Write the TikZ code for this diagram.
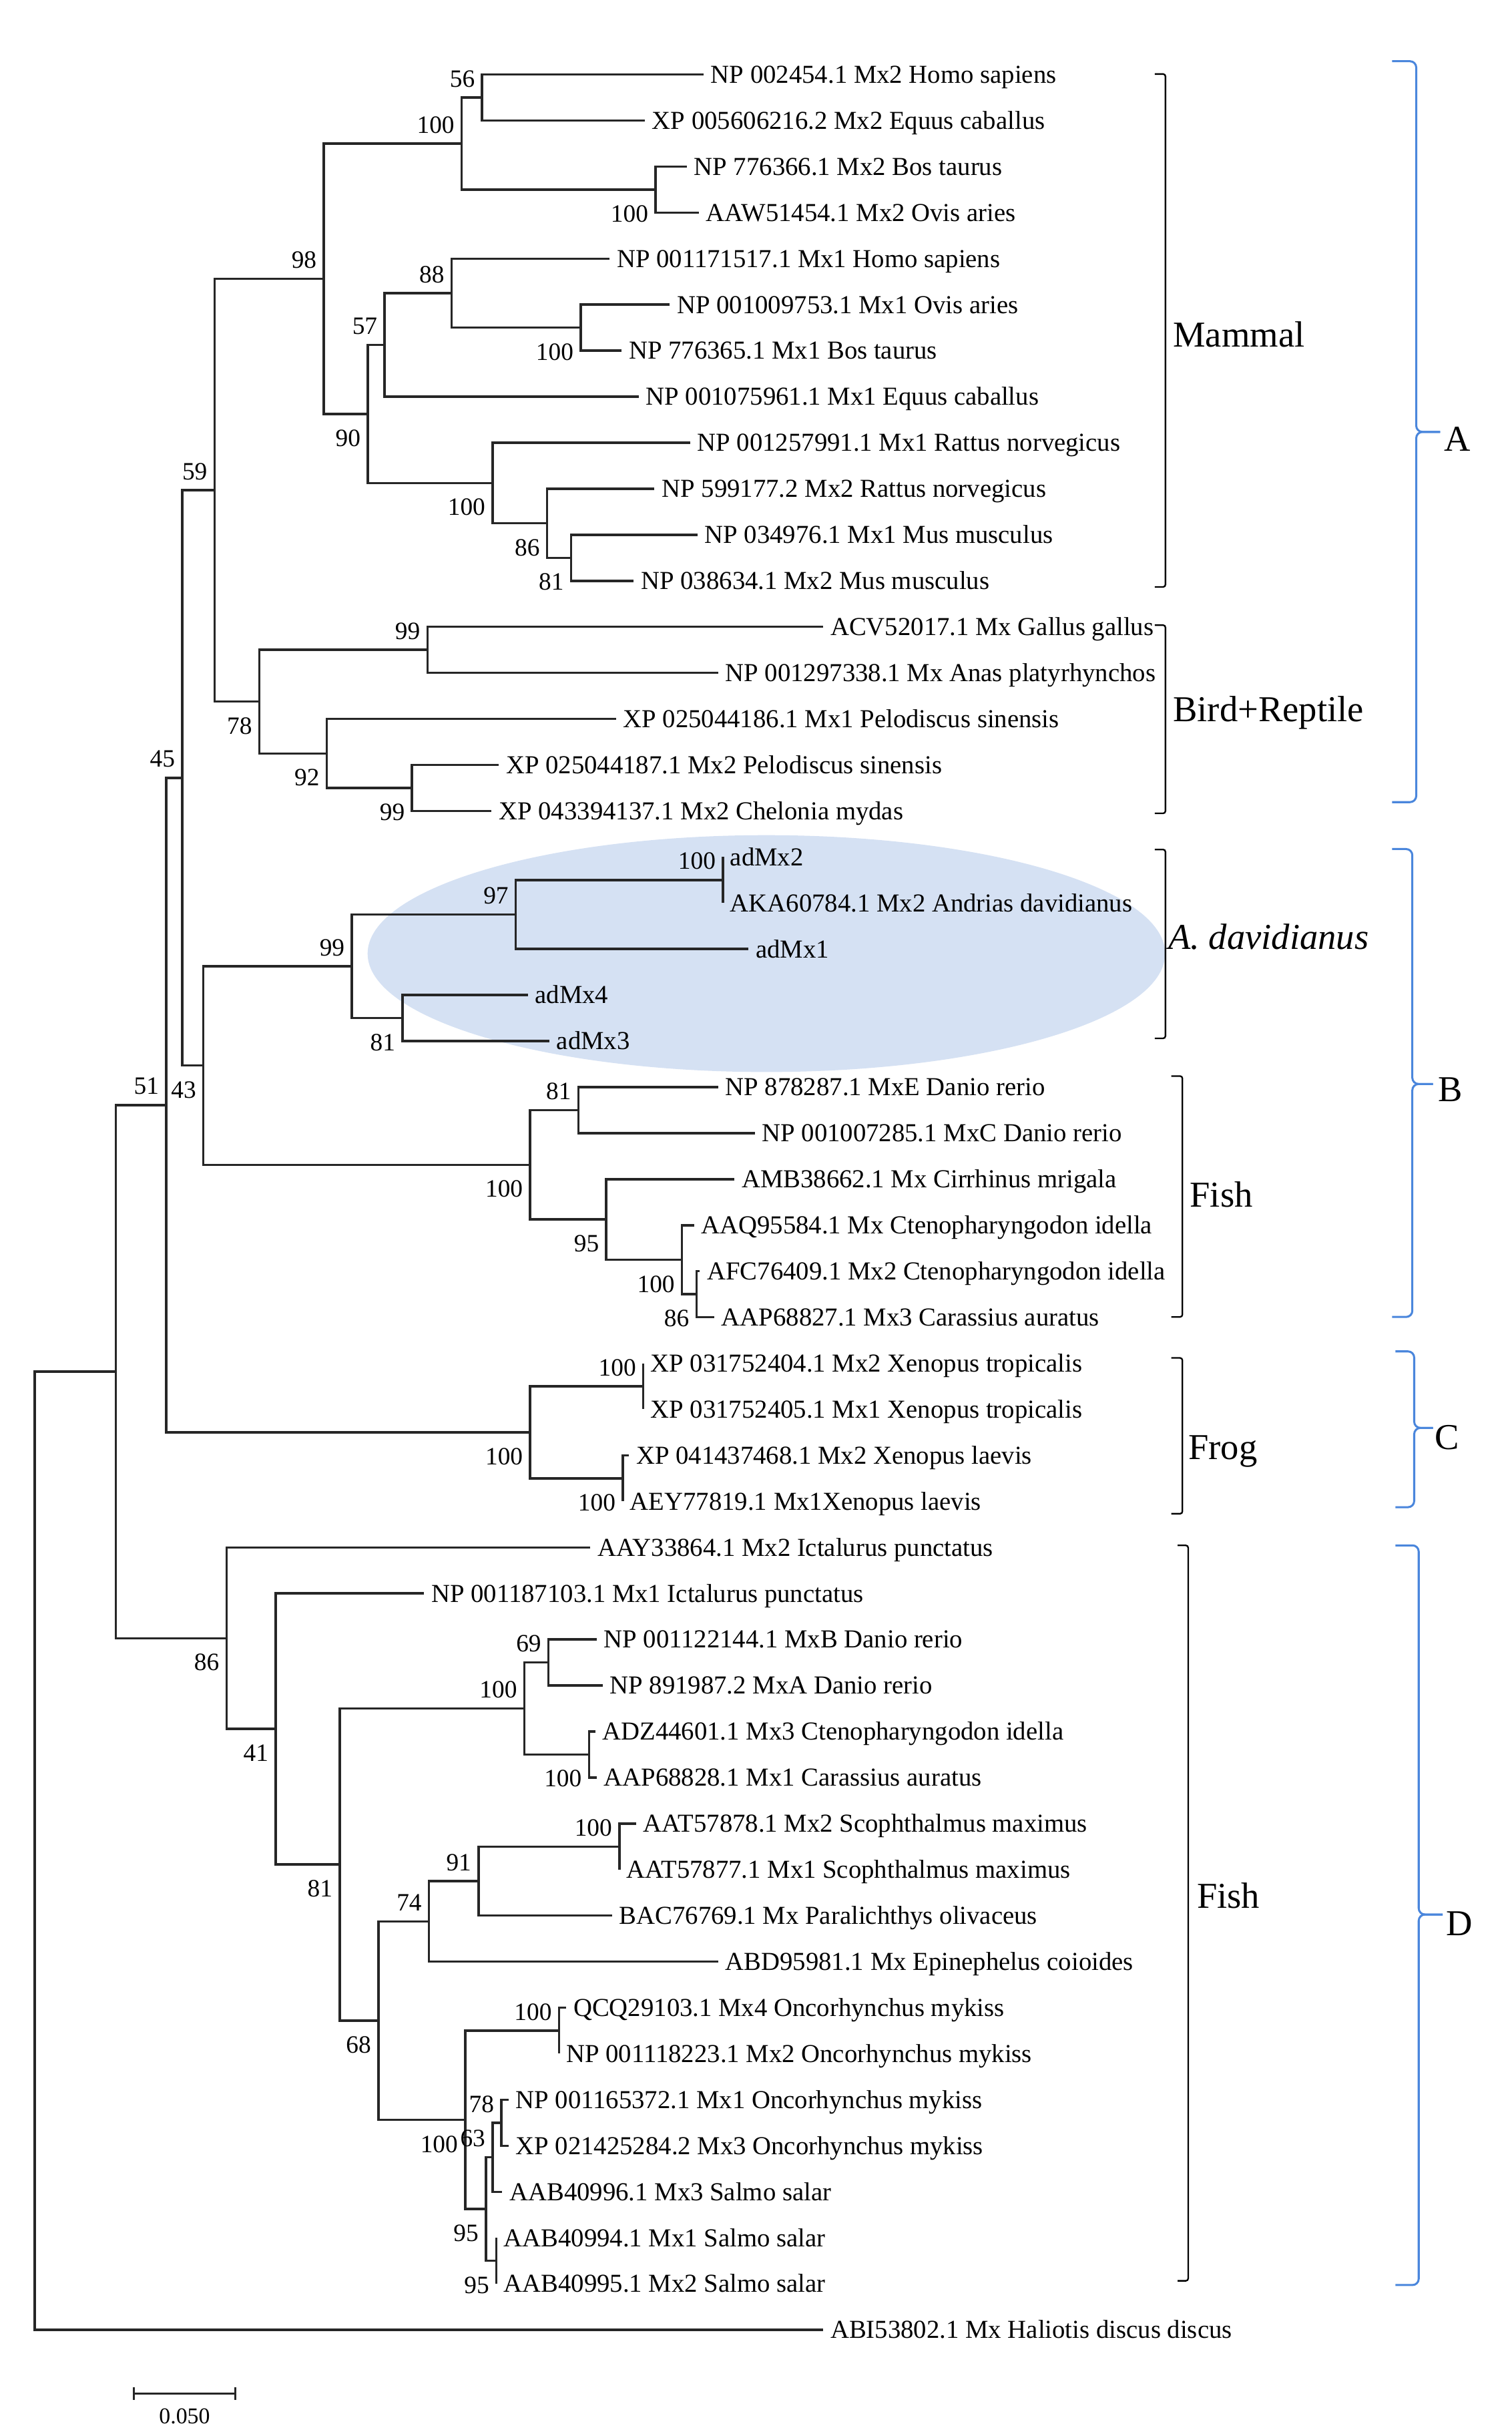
\documentclass[tikz,border=0pt]{standalone}
\usepackage{fontspec}
\setmainfont{Liberation Serif}
\definecolor{braceblue}{RGB}{74,134,220}
\definecolor{ellfill}{RGB}{213,225,243}
\newcommand{\tbr}[3]{\draw[branch] (#2) -| (#1) |- (#3);}
\newcommand{\bsUp}[2]{\node[bs] (lab-#1) at ([shift={(-4.5pt,12.2pt)}]#1) {#2};}
\newcommand{\bsDn}[2]{\node[bs] (lab-#1) at ([shift={(-4.5pt,-15.4pt)}]#1) {#2};}
\newcommand{\bbrace}[7]{% name, xend, xvert, xtip, top, mid, bottom
  \draw[bluebr] (#2,#5) -- (#3,#5) -- (#3,#6) -- (#4,#6);
  \draw[bluebr] (#4,#6) -- (#3,#6) -- (#3,#7) -- (#2,#7);
  \coordinate (#1) at (#4,#6);}
\begin{document}
\begin{tikzpicture}[x=1pt,y=-1pt,
  branch/.style={line width=1.5pt,draw=black!85},
  leaf/.style={anchor=west,inner xsep=4.5pt,inner ysep=0pt,text height=11pt,text depth=0pt,font=\fontsize{16.6}{18}\selectfont},
  bs/.style={anchor=east,inner sep=0pt,text height=10.8pt,text depth=0pt,font=\fontsize{16}{18}\selectfont},
  grp/.style={anchor=base west,inner sep=0pt,font=\fontsize{23.4}{26}\selectfont},
  bracket/.style={line width=1pt,draw=black,rounded corners=1.5pt},
  bluebr/.style={line width=1.3pt,draw=braceblue,rounded corners=4pt},
  bar/.style={line width=1.4pt,draw=black!85}]
\useasboundingbox (0,0) rectangle (970.3,1563.4);
% highlight ellipse
\fill[ellfill] (492,612) ellipse [x radius=256pt,y radius=76pt];
% leaves
\node[leaf] (L1) at (451.7,47.8) {NP 002454.1 Mx2 Homo sapiens};
\node[leaf] (L2) at (414,77.34) {XP 005606216.2 Mx2 Equus caballus};
\node[leaf] (L3) at (440.9,106.88) {NP 776366.1 Mx2 Bos taurus};
\node[leaf] (L4) at (448.6,136.42) {AAW51454.1 Mx2 Ovis aries};
\node[leaf] (L5) at (391.4,165.96) {NP 001171517.1 Mx1 Homo sapiens};
\node[leaf] (L6) at (430,195.5) {NP 001009753.1 Mx1 Ovis aries};
\node[leaf] (L7) at (399.1,225.04) {NP 776365.1 Mx1 Bos taurus};
\node[leaf] (L8) at (410,254.58) {NP 001075961.1 Mx1 Equus caballus};
\node[leaf] (L9) at (443,284.12) {NP 001257991.1 Mx1 Rattus norvegicus};
\node[leaf] (L10) at (420.2,313.66) {NP 599177.2 Mx2 Rattus norvegicus};
\node[leaf] (L11) at (447.7,343.2) {NP 034976.1 Mx1 Mus musculus};
\node[leaf] (L12) at (406.9,372.74) {NP 038634.1 Mx2 Mus musculus};
\node[leaf] (L13) at (528.5,402.28) {ACV52017.1 Mx Gallus gallus};
\node[leaf] (L14) at (461,431.82) {NP 001297338.1 Mx Anas platyrhynchos};
\node[leaf] (L15) at (395.4,461.36) {XP 025044186.1 Mx1 Pelodiscus sinensis};
\node[leaf] (L16) at (320.2,490.9) {XP 025044187.1 Mx2 Pelodiscus sinensis};
\node[leaf] (L17) at (315.6,520.44) {XP 043394137.1 Mx2 Chelonia mydas};
\node[leaf] (L18) at (464.1,549.98) {adMx2};
\node[leaf] (L19) at (464.1,579.52) {AKA60784.1 Mx2 Andrias davidianus};
\node[leaf] (L20) at (480.5,609.06) {adMx1};
\node[leaf] (L21) at (338.8,638.6) {adMx4};
\node[leaf] (L22) at (352.7,668.14) {adMx3};
\node[leaf] (L23) at (461,697.68) {NP 878287.1 MxE Danio rerio};
\node[leaf] (L24) at (484.5,727.22) {NP 001007285.1 MxC Danio rerio};
\node[leaf] (L25) at (471.5,756.76) {AMB38662.1 Mx Cirrhinus mrigala};
\node[leaf] (L26) at (445.5,786.3) {AAQ95584.1 Mx Ctenopharyngodon idella};
\node[leaf] (L27) at (449.3,815.84) {AFC76409.1 Mx2 Ctenopharyngodon idella};
\node[leaf] (L28) at (458.5,845.38) {AAP68827.1 Mx3 Carassius auratus};
\node[leaf] (L29) at (413,874.92) {XP 031752404.1 Mx2 Xenopus tropicalis};
\node[leaf] (L30) at (413,904.46) {XP 031752405.1 Mx1 Xenopus tropicalis};
\node[leaf] (L31) at (403.8,934) {XP 041437468.1 Mx2 Xenopus laevis};
\node[leaf] (L32) at (399.8,963.54) {AEY77819.1 Mx1Xenopus laevis};
\node[leaf] (L33) at (379,993.08) {AAY33864.1 Mx2 Ictalurus punctatus};
\node[leaf] (L34) at (272.3,1022.62) {NP 001187103.1 Mx1 Ictalurus punctatus};
\node[leaf] (L35) at (383,1052.16) {NP 001122144.1 MxB Danio rerio};
\node[leaf] (L36) at (386.8,1081.7) {NP 891987.2 MxA Danio rerio};
\node[leaf] (L37) at (382.1,1111.24) {ADZ44601.1 Mx3 Ctenopharyngodon idella};
\node[leaf] (L38) at (383,1140.78) {AAP68828.1 Mx1 Carassius auratus};
\node[leaf] (L39) at (408.4,1170.32) {AAT57878.1 Mx2 Scophthalmus maximus};
\node[leaf] (L40) at (397.6,1199.86) {AAT57877.1 Mx1 Scophthalmus maximus};
\node[leaf] (L41) at (392.9,1229.4) {BAC76769.1 Mx Paralichthys olivaceus};
\node[leaf] (L42) at (461,1258.94) {ABD95981.1 Mx Epinephelus coioides};
\node[leaf] (L43) at (363.5,1288.48) {QCQ29103.1 Mx4 Oncorhynchus mykiss};
\node[leaf] (L44) at (358.9,1318.02) {NP 001118223.1 Mx2 Oncorhynchus mykiss};
\node[leaf] (L45) at (326.4,1347.56) {NP 001165372.1 Mx1 Oncorhynchus mykiss};
\node[leaf] (L46) at (326.4,1377.1) {XP 021425284.2 Mx3 Oncorhynchus mykiss};
\node[leaf] (L47) at (322.4,1406.64) {AAB40996.1 Mx3 Salmo salar};
\node[leaf] (L48) at (318.7,1436.18) {AAB40994.1 Mx1 Salmo salar};
\node[leaf] (L49) at (318.7,1465.72) {AAB40995.1 Mx2 Salmo salar};
\node[leaf] (L50) at (528.5,1495.26) {ABI53802.1 Mx Haliotis discus discus};
% internal nodes
\coordinate (a56) at (309.5,62.57);
\coordinate (bo100) at (420.8,121.65);
\coordinate (a100) at (296.4,92.11);
\coordinate (c100) at (372.8,210.27);
\coordinate (a88) at (289.9,188.12);
\coordinate (a57) at (246.9,221.35);
\coordinate (a81) at (366.6,357.97);
\coordinate (b86) at (351.2,335.82);
\coordinate (r100) at (316.2,309.97);
\coordinate (a90) at (236.1,265.66);
\coordinate (a98) at (207.9,178.89);
\coordinate (b99) at (274.4,417.05);
\coordinate (t99) at (264.5,505.67);
\coordinate (a92) at (209.8,483.52);
\coordinate (a78) at (166.5,450.28);
\coordinate (a59) at (137.7,314.59);
\coordinate (d100) at (464.1,564.75);
\coordinate (a97) at (331.1,586.9);
\coordinate (d81) at (258.4,653.37);
\coordinate (d99) at (225.9,620.14);
\coordinate (f81) at (371.3,712.45);
\coordinate (f86) at (447.1,830.61);
\coordinate (f100b) at (437.8,808.46);
\coordinate (f95) at (389.2,782.61);
\coordinate (f100) at (340.3,747.53);
\coordinate (a43) at (130.6,683.84);
\coordinate (a45) at (117,499.2);
\coordinate (x100a) at (413,889.69);
\coordinate (x100b) at (399.8,948.77);
\coordinate (x100) at (340.3,919.23);
\coordinate (a51) at (106.7,709.2);
\coordinate (g69) at (352.1,1066.93);
\coordinate (g100c) at (378.1,1126.01);
\coordinate (g100) at (336.6,1096.47);
\coordinate (s100) at (397.6,1185.09);
\coordinate (g91) at (307.2,1207.25);
\coordinate (g74) at (275.4,1233.1);
\coordinate (o100) at (358.9,1303.25);
\coordinate (o78) at (321.8,1362.33);
\coordinate (o63) at (316.2,1384.49);
\coordinate (o95b) at (318.7,1450.95);
\coordinate (o95) at (311.9,1417.72);
\coordinate (o100s) at (298.6,1360.49);
\coordinate (g68) at (242.9,1296.8);
\coordinate (g81) at (218.1,1196.64);
\coordinate (g41) at (177,1109.63);
\coordinate (g86) at (145.4,1051.36);
\coordinate (nA) at (74.3,880.28);
\coordinate (root) at (22.3,1187.77);
% branches
\tbr{a56}{L1.west}{L2.west}
\tbr{bo100}{L3.west}{L4.west}
\tbr{a100}{a56}{bo100}
\tbr{c100}{L6.west}{L7.west}
\tbr{a88}{L5.west}{c100}
\tbr{a57}{a88}{L8.west}
\tbr{a81}{L11.west}{L12.west}
\tbr{b86}{L10.west}{a81}
\tbr{r100}{L9.west}{b86}
\tbr{a90}{a57}{r100}
\tbr{a98}{a100}{a90}
\tbr{b99}{L13.west}{L14.west}
\tbr{t99}{L16.west}{L17.west}
\tbr{a92}{L15.west}{t99}
\tbr{a78}{b99}{a92}
\tbr{a59}{a98}{a78}
\tbr{d100}{L18.west}{L19.west}
\tbr{a97}{d100}{L20.west}
\tbr{d81}{L21.west}{L22.west}
\tbr{d99}{a97}{d81}
\tbr{f81}{L23.west}{L24.west}
\tbr{f86}{L27.west}{L28.west}
\tbr{f100b}{L26.west}{f86}
\tbr{f95}{L25.west}{f100b}
\tbr{f100}{f81}{f95}
\tbr{a43}{d99}{f100}
\tbr{a45}{a59}{a43}
\tbr{x100a}{L29.west}{L30.west}
\tbr{x100b}{L31.west}{L32.west}
\tbr{x100}{x100a}{x100b}
\tbr{a51}{a45}{x100}
\tbr{g69}{L35.west}{L36.west}
\tbr{g100c}{L37.west}{L38.west}
\tbr{g100}{g69}{g100c}
\tbr{s100}{L39.west}{L40.west}
\tbr{g91}{s100}{L41.west}
\tbr{g74}{g91}{L42.west}
\tbr{o100}{L43.west}{L44.west}
\tbr{o78}{L45.west}{L46.west}
\tbr{o63}{o78}{L47.west}
\tbr{o95b}{L48.west}{L49.west}
\tbr{o95}{o63}{o95b}
\tbr{o100s}{o100}{o95}
\tbr{g68}{g74}{o100s}
\tbr{g81}{g100}{g68}
\tbr{g41}{L34.west}{g81}
\tbr{g86}{L33.west}{g41}
\tbr{nA}{a51}{g86}
\tbr{root}{nA}{L50.west}
% bootstrap values
\bsUp{a56}{56}
\bsUp{a100}{100}
\bsUp{a98}{98}
\bsUp{a88}{88}
\bsUp{a57}{57}
\bsUp{a59}{59}
\bsUp{b99}{99}
\bsUp{a45}{45}
\bsUp{d100}{100}
\bsUp{a97}{97}
\bsUp{d99}{99}
\bsUp{f81}{81}
\bsUp{a51}{51}
\bsUp{x100a}{100}
\bsUp{g100}{100}
\bsUp{g69}{69}
\bsUp{g74}{74}
\bsUp{g91}{91}
\bsUp{s100}{100}
\bsUp{o100}{100}
\bsUp{o63}{63}
\bsUp{o78}{78}
\bsDn{bo100}{100}
\bsDn{c100}{100}
\bsDn{a90}{90}
\bsDn{r100}{100}
\bsDn{b86}{86}
\bsDn{a81}{81}
\bsDn{a78}{78}
\bsDn{a92}{92}
\bsDn{t99}{99}
\bsDn{d81}{81}
\bsDn{a43}{43}
\bsDn{f100}{100}
\bsDn{f95}{95}
\bsDn{f100b}{100}
\bsDn{f86}{86}
\bsDn{x100b}{100}
\bsDn{x100}{100}
\bsDn{g86}{86}
\bsDn{g41}{41}
\bsDn{g81}{81}
\bsDn{g100c}{100}
\bsDn{g68}{68}
\bsDn{o100s}{100}
\bsDn{o95}{95}
\bsDn{o95b}{95}
% black group brackets
\draw[bracket] (741.4,47.5) -- (748.2,47.5) -- (748.2,376.7) -- (741.4,376.7);
\draw[bracket] (741.4,401.2) -- (748.2,401.2) -- (748.2,522) -- (741.4,522);
\draw[bracket] (741.4,545.2) -- (748.2,545.2) -- (748.2,666.4) -- (741.4,666.4);
\draw[bracket] (752,690.6) -- (759.1,690.6) -- (759.1,845.2) -- (752,845.2);
\draw[bracket] (752,871.5) -- (759.1,871.5) -- (759.1,971.5) -- (752,971.5);
\draw[bracket] (756,991.8) -- (762.8,991.8) -- (762.8,1463.8) -- (756,1463.8);
\node[grp] (gMammal) at (752.9,222.5) {Mammal};
\node[grp] (gBird) at (752.9,463) {Bird+Reptile};
\node[grp] (gAd) at (749.8,609.2) {\itshape A. davidianus};
\node[grp] (gFishB) at (763.7,774.5) {Fish};
\node[grp] (gFrog) at (762.8,936.7) {Frog};
\node[grp] (gFishD) at (768.3,1224.4) {Fish};
% blue braces
\bbrace{tipA}{893.7}{909.2}{924.6}{39.3}{277.2}{514.8}
\bbrace{tipB}{893.7}{906.7}{920}{544.9}{695.7}{845.2}
\bbrace{tipC}{895.8}{907.9}{920}{867.3}{916.4}{967.3}
\bbrace{tipD}{895.8}{910.8}{926.2}{991.8}{1228.7}{1466.5}
\node[grp] (cA) at (927,289.4) {A};
\node[grp] (cB) at (923.1,706.7) {B};
\node[grp] (cC) at (921,930) {C};
\node[grp] (cD) at (928.4,1242.2) {D};
% scale bar
\coordinate (sb1) at (86,1536.3);
\coordinate (sb2) at (151,1536.3);
\draw[bar] (sb1) -- (sb2);
\draw[bar] ([yshift=4pt]sb1) -- ([yshift=-4pt]sb1);
\draw[bar] ([yshift=4pt]sb2) -- ([yshift=-4pt]sb2);
\node[inner sep=0pt,text height=9.8pt,text depth=0pt,font=\fontsize{14.5}{16}\selectfont] (sblab) at (118.5,1550.6) {0.050};
\end{tikzpicture}
\end{document}
